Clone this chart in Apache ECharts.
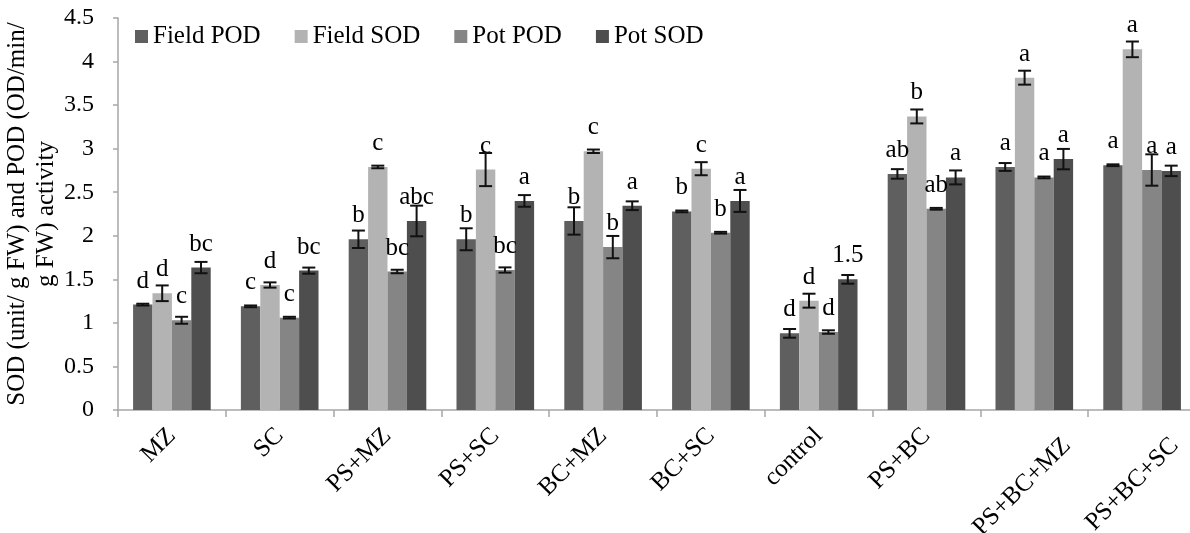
<!DOCTYPE html>
<html>
<head>
<meta charset="utf-8">
<script src="https://cdn.jsdelivr.net/npm/echarts@6/dist/echarts.min.js"></script>
<style>html,body{margin:0;padding:0;background:#fff;}#c{width:1190px;height:533px;}</style>
</head>
<body>
<div id="c"></div>
<script>
const categories = ['MZ','SC','PS+MZ','PS+SC','BC+MZ','BC+SC','control','PS+BC','PS+BC+MZ','PS+BC+SC'];
const seriesNames = ['Field POD','Field SOD','Pot POD','Pot SOD'];
const fieldPOD = [1.21, 1.19, 1.96, 1.96, 2.17, 2.28, 0.88, 2.71, 2.79, 2.81];
const fieldSOD = [1.34, 1.435, 2.79, 2.76, 2.97, 2.77, 1.255, 3.37, 3.815, 4.14];
const potPOD = [1.03, 1.06, 1.59, 1.607, 1.87, 2.035, 0.895, 2.31, 2.67, 2.755];
const potSOD = [1.635, 1.6, 2.17, 2.40, 2.345, 2.40, 1.50, 2.67, 2.88, 2.745];
const fieldPODErr = [0.01, 0.01, 0.1, 0.126, 0.157, 0.01, 0.05, 0.055, 0.045, 0.01];
const fieldSODErr = [0.09, 0.03, 0.015, 0.19, 0.02, 0.075, 0.08, 0.08, 0.08, 0.09];
const potPODErr = [0.04, 0.01, 0.02, 0.03, 0.128, 0.01, 0.02, 0.01, 0.01, 0.18];
const potSODErr = [0.065, 0.035, 0.176, 0.067, 0.05, 0.126, 0.05, 0.08, 0.117, 0.06];
const fieldPODLetters = ['d','c','b','b','b','b','d','ab','a','a'];
const fieldSODLetters = ['d','d','c','c','c','c','d','b','a','a'];
const potPODLetters = ['c','c','bc','bc','b','b','d','ab','a','a'];
const potSODLetters = ['bc','bc','abc','a','a','a','1.5','a','a','a'];
const yTicks = {min: 0, max: 4.5, interval: 0.5};
const yTitle = 'SOD (unit/ g FW) and POD (OD/min/\ng FW) activity';

const values = [fieldPOD, fieldSOD, potPOD, potSOD];
const errors = [fieldPODErr, fieldSODErr, potPODErr, potSODErr];
const letters = [fieldPODLetters, fieldSODLetters, potPODLetters, potSODLetters];
const colors = ['#5f5f5f', '#b2b3b2', '#858585', '#4e4e4e'];
const FONT = '"Liberation Serif", "Times New Roman", serif';
const catGap = 0.28;
// label placement tweaks (style only) for long rotated labels
const longLabelPad = [0, -16, 0, 0];
const isLong = s => s.length >= 8;

const chart = echarts.init(document.getElementById('c'));
const series = [];
values.forEach((vals, si) => {
  series.push({
    name: seriesNames[si],
    type: 'bar',
    data: vals,
    barGap: '0%',
    barCategoryGap: (catGap * 100) + '%',
    itemStyle: {color: colors[si]},
    label: {
      show: true,
      position: 'top',
      distance: 11,
      fontFamily: FONT,
      fontSize: 25,
      color: '#000',
      formatter: p => letters[si][p.dataIndex]
    },
    z: 2
  });
});
values.forEach((vals, si) => {
  series.push({
    type: 'custom',
    name: 'err' + si,
    data: vals.map((v, i) => [i, v, errors[si][i]]),
    z: 5,
    silent: true,
    renderItem: function (params, api) {
      const i = api.value(0), v = api.value(1), e = api.value(2);
      const catW = api.size([1, 0])[0];
      const bw = catW * (1 - catGap) / 4;
      const c = api.coord([i, v]);
      const x = c[0] + (si - 1.5) * bw;
      const yTop = api.coord([i, v + e])[1];
      const yBot = api.coord([i, v - e])[1];
      const half = 6.5;
      const st = {stroke: '#111', lineWidth: 2};
      return {
        type: 'group',
        children: [
          {type: 'line', shape: {x1: x, y1: yTop, x2: x, y2: yBot}, style: st},
          {type: 'line', shape: {x1: x - half, y1: yTop, x2: x + half, y2: yTop}, style: st},
          {type: 'line', shape: {x1: x - half, y1: yBot, x2: x + half, y2: yBot}, style: st}
        ]
      };
    }
  });
});

const xData = categories.map(c => isLong(c) ? {value: c, textStyle: {padding: longLabelPad}} : c);

chart.setOption({
  animation: false,
  backgroundColor: '#fff',
  legend: {
    data: seriesNames,
    top: 19,
    left: 130,
    icon: 'rect',
    itemWidth: 13,
    itemHeight: 13,
    itemGap: 34,
    textStyle: {fontFamily: FONT, fontSize: 25, color: '#000'}
  },
  grid: {left: 118, right: -6, top: 18, bottom: 123, containLabel: false, outerBoundsMode: 'none'},
  xAxis: {
    type: 'category',
    data: xData,
    axisLine: {lineStyle: {color: '#a6a6a6', width: 1.5}},
    axisTick: {show: true, length: 7, lineStyle: {color: '#a6a6a6', width: 1.5}},
    axisLabel: {
      rotate: 45,
      margin: 22,
      fontFamily: FONT,
      fontSize: 25,
      lineHeight: 30,
      color: '#000',
      interval: 0,
      formatter: v => isLong(v) ? '\n\n' + v : v
    }
  },
  yAxis: {
    type: 'value',
    min: yTicks.min,
    max: yTicks.max,
    interval: yTicks.interval,
    name: yTitle,
    nameLocation: 'middle',
    nameRotate: 90,
    nameGap: 57,
    nameMoveOverlap: false,
    nameTextStyle: {fontFamily: FONT, fontSize: 25, color: '#000', lineHeight: 29, align: 'center'},
    axisLine: {show: true, lineStyle: {color: '#a6a6a6', width: 1.5}},
    axisTick: {show: true, length: 5, lineStyle: {color: '#a6a6a6', width: 1.5}},
    splitLine: {show: false},
    axisLabel: {fontFamily: FONT, fontSize: 24, color: '#000', margin: 24}
  },
  series: series
});
</script>
</body>
</html>
